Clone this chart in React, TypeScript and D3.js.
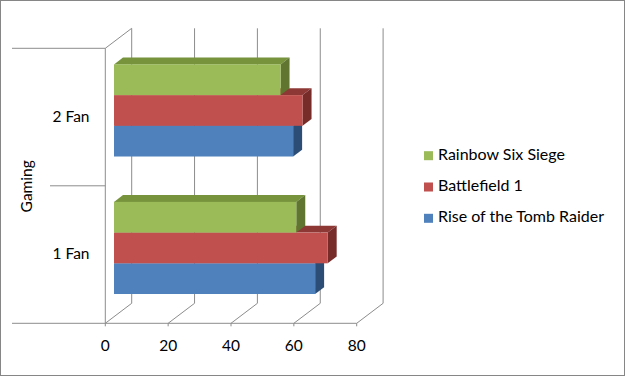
import React from "react";
import * as d3 from "d3";

const categories = ["2 Fan", "1 Fan"];
const seriesNames = ["Rainbow Six Siege", "Battlefield 1", "Rise of the Tomb Raider"];
const rainbowSixSiege = [53, 58];
const battlefield1 = [60, 68];
const riseOfTombRaider = [57, 64];
const xTicks = [0, 20, 40, 60, 80];
const axisTitle = "Gaming";

const seriesValues = [rainbowSixSiege, battlefield1, riseOfTombRaider];
const frontColors = ["#9BBB59", "#C0504D", "#4F81BD"];
const topColors = ["#77933C", "#8E3836", "#385D8A"];
const sideColors = ["#5F7530", "#772C2A", "#2C4D75"];

const W = 625;
const H = 376;
const FONT = "Lato, 'Liberation Sans', sans-serif";

export default function App() {
  const x0 = 105.3;
  const x1 = 356.7;
  const yTop = 48.3;
  const yFloor = 323.3;
  const DX = 26.4;
  const DY = -20;
  const f0 = 0.33;
  const f1 = 0.67;

  const x = d3.scaleLinear().domain([0, 80]).range([x0, x1]);
  const yCat = d3.scaleBand<string>().domain(categories).range([yTop, yFloor]).padding(0);
  const ySer = d3
    .scaleBand<string>()
    .domain(seriesNames)
    .range([yCat.bandwidth() * 0.165, yCat.bandwidth() * 0.835])
    .padding(0);

  const grid = "#8C8C8C";
  const fdx = DX * f0;
  const fdy = DY * f0;
  const ddx = DX * (f1 - f0);
  const ddy = DY * (f1 - f0);

  const bars: React.ReactNode[] = [];
  categories.forEach((cat, ci) => {
    for (let si = seriesNames.length - 1; si >= 0; si--) {
      const v = seriesValues[si][ci];
      const left = x(0) + fdx;
      const right = x(v) + fdx;
      const top = (yCat(cat) as number) + (ySer(seriesNames[si]) as number) + fdy;
      const bottom = top + ySer.bandwidth();
      const topFace = `M${left},${top} L${left + ddx},${top + ddy} L${right + ddx},${top + ddy} L${right},${top} Z`;
      const sideFace = `M${right},${top} L${right + ddx},${top + ddy} L${right + ddx},${bottom + ddy} L${right},${bottom} Z`;
      bars.push(
        <g key={`${cat}-${si}`}>
          <path d={topFace} fill={topColors[si]} />
          <path d={sideFace} fill={sideColors[si]} />
          <rect x={left} y={top} width={right - left} height={bottom - top} fill={frontColors[si]} />
        </g>
      );
    }
  });

  return (
    <svg
      width={W}
      height={H}
      style={{ position: "fixed", left: 0, top: 0, background: "#fff" }}
      fontFamily={FONT}
    >
      <rect x={0.5} y={0.5} width={W - 1} height={H - 1} fill="#fff" stroke="#868686" />
      {xTicks.map((t) => (
        <line key={`bg${t}`} x1={x(t) + DX} x2={x(t) + DX} y1={yTop + DY} y2={yFloor + DY} stroke={grid} />
      ))}
      {xTicks.map((t) => (
        <line key={`fd${t}`} x1={x(t)} x2={x(t) + DX} y1={yFloor} y2={yFloor + DY} stroke={grid} />
      ))}
      <line x1={x0} x2={x0} y1={yTop} y2={yFloor} stroke={grid} />
      <line x1={x0} x2={x0 + DX} y1={yTop} y2={yTop + DY} stroke={grid} />
      <line x1={12} x2={x0} y1={yTop} y2={yTop} stroke={grid} />
      <line x1={50} x2={x0} y1={yTop + yCat.step()} y2={yTop + yCat.step()} stroke={grid} />
      <line x1={12} x2={x1} y1={yFloor} y2={yFloor} stroke={grid} />
      {xTicks.map((t) => (
        <line key={`tm${t}`} x1={x(t)} x2={x(t)} y1={yFloor} y2={yFloor + 3} stroke={grid} />
      ))}
      {bars}
      {xTicks.map((t) => (
        <text key={`tl${t}`} x={x(t)} y={350.5} textAnchor="middle" fontSize={15.5} fill="#000">
          {t}
        </text>
      ))}
      {categories.map((c) => (
        <text
          key={`cl${c}`}
          x={89.5}
          y={(yCat(c) as number) + yCat.bandwidth() / 2 + 1}
          textAnchor="end"
          dominantBaseline="middle"
          fontSize={15.5}
          fill="#000"
        >
          {c}
        </text>
      ))}
      <text
        transform={`translate(31.5,${(yTop + yFloor) / 2 + 0.5}) rotate(-90)`}
        textAnchor="middle"
        fontSize={15.5}
        fill="#000"
      >
        {axisTitle}
      </text>
      {seriesNames.map((s, i) => {
        const cy = 155.7 + i * 31.3;
        return (
          <g key={`lg${s}`}>
            <rect x={424} y={cy - 4.5} width={9} height={9} fill={frontColors[i]} />
            <text x={438} y={cy} dominantBaseline="middle" fontSize={16} fill="#000">
              {s}
            </text>
          </g>
        );
      })}
    </svg>
  );
}
